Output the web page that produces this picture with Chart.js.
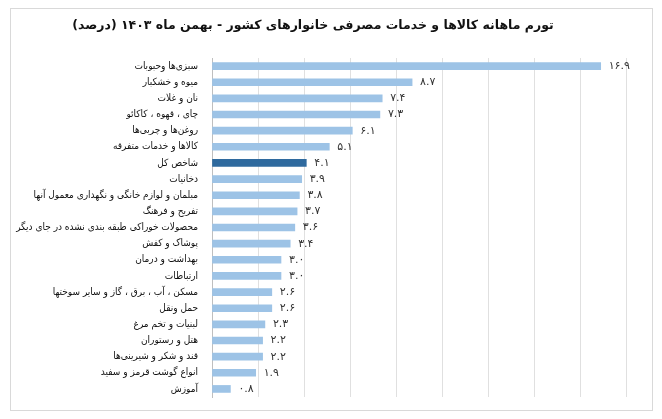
<!DOCTYPE html>
<html>
<head>
<meta charset="utf-8">
<script src="https://cdn.jsdelivr.net/npm/chart.js@4"></script>
<style>
  body { margin: 0; background: #fff; }
  #frame { position: absolute; left: 10px; top: 8px; width: 641px; height: 401px; border: 1px solid #d9d9d9; }
  #wrap { position: absolute; left: 0; top: 0; width: 662px; height: 419px; }
</style>
</head>
<body>
<div id="frame"></div>
<div id="wrap"><canvas id="chart"></canvas></div>
<script>
var categories = [
    'سبزی‌ها وحبوبات', 'میوه و خشکبار', 'نان و غلات', 'چای ، قهوه ، کاکائو', 'روغن‌ها و چربی‌ها',
    'کالاها و خدمات متفرقه', 'شاخص کل', 'دخانیات', 'مبلمان و لوازم خانگی و نگهداری معمول آنها',
    'تفریح و فرهنگ', 'محصولات خوراکی طبقه بندی نشده در جای دیگر', 'پوشاک و کفش', 'بهداشت و درمان',
    'ارتباطات', 'مسکن ، آب ، برق ، گاز و سایر سوختها', 'حمل ونقل', 'لبنیات و تخم مرغ',
    'هتل و رستوران', 'قند و شکر و شیرینی‌ها', 'انواع گوشت قرمز و سفید', 'آموزش'
];
var values = [16.9, 8.7, 7.4, 7.3, 6.1, 5.1, 4.1, 3.9, 3.8, 3.7, 3.6, 3.4, 3.0, 3.0, 2.6, 2.6, 2.3, 2.2, 2.2, 1.9, 0.8];
var highlight = 'شاخص کل';

function faDigits(s) {
    return s.replace(/[0-9]/g, function(d) { return '۰۱۲۳۴۵۶۷۸۹'[d]; });
}

var valueLabels = {
    id: 'valueLabels',
    afterDatasetsDraw: function(chart) {
        var ctx = chart.ctx;
        var meta = chart.getDatasetMeta(0);
        ctx.save();
        ctx.font = '11px "DejaVu Sans"';
        ctx.fillStyle = '#333';
        ctx.textAlign = 'left';
        ctx.textBaseline = 'middle';
        meta.data.forEach(function(bar, i) {
            ctx.fillText(faDigits(values[i].toFixed(1)), bar.x + 8, bar.y);
        });
        ctx.restore();
    }
};

var ctx = document.getElementById('chart').getContext('2d');
new Chart(ctx, {
    type: 'bar',
    data: {
        labels: categories,
        datasets: [{
            data: values,
            backgroundColor: categories.map(function(c) { return c === highlight ? '#2f6a9e' : '#9dc3e6'; }),
            barThickness: 7
        }]
    },
    options: {
        indexAxis: 'y',
        responsive: true,
        maintainAspectRatio: false,
        animation: false,
        layout: { padding: { left: 0, right: 36, top: 0, bottom: 22 } },
        plugins: {
            legend: { display: false },
            tooltip: { enabled: false },
            title: {
                display: true,
                text: 'تورم ماهانه کالاها و خدمات مصرفی خانوارهای کشور - بهمن ماه ۱۴۰۳ (درصد)',
                font: { family: 'DejaVu Sans', size: 12.5, weight: 'bold' },
                color: '#111',
                padding: { top: 18, bottom: 25 }
            }
        },
        scales: {
            x: {
                min: 0, max: 18,
                ticks: { stepSize: 2, display: false },
                grid: { color: '#e0e0e0', drawTicks: false },
                border: { display: false }
            },
            y: {
                afterFit: function(scale) { scale.width = 212; },
                grid: { display: false },
                border: { color: '#bfbfbf' },
                ticks: { color: '#111', font: { family: '"DejaVu Sans Condensed", "DejaVu Sans"', size: 10 }, autoSkip: false, padding: 6 }
            }
        }
    },
    plugins: [valueLabels]
});
</script>
</body>
</html>
